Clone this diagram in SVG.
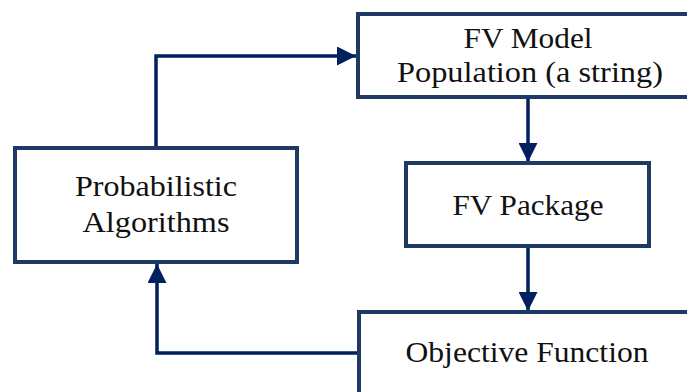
<svg xmlns="http://www.w3.org/2000/svg" width="687" height="392" viewBox="0 0 687 392">
<style>
.box{fill:#fff;stroke:#203864;stroke-width:4}
.lbl{font-family:"Liberation Serif","Times New Roman",serif;font-size:30px;fill:#111;text-anchor:middle}
.con{fill:none;stroke:#00205f;stroke-width:3.5}
</style>
<defs>
<marker id="ah" viewBox="0 0 10 10" refX="10" refY="5" markerWidth="19" markerHeight="19" markerUnits="userSpaceOnUse" orient="auto">
<path d="M0,0 L10,5 L0,10 Z" fill="#00205f"/>
</marker>
</defs>
<rect width="687" height="392" fill="#fff"/>
<g id="connectors">
<path class="con" d="M156,148 V56 H356" marker-end="url(#ah)"/>
<path class="con" d="M528,98 V162" marker-end="url(#ah)"/>
<path class="con" d="M528,246 V311" marker-end="url(#ah)"/>
<path class="con" d="M359,353 H157 V264" marker-end="url(#ah)"/>
</g>
<g id="fv-model">
<rect class="box" x="358" y="14" width="340" height="83"/>
<text class="lbl" x="528" y="48" textLength="129" lengthAdjust="spacingAndGlyphs">FV Model</text>
<text class="lbl" x="530" y="82" textLength="266" lengthAdjust="spacingAndGlyphs">Population (a string)</text>
</g>
<g id="probabilistic">
<rect class="box" x="15" y="148" width="282" height="114"/>
<text class="lbl" x="156" y="196" textLength="162" lengthAdjust="spacingAndGlyphs">Probabilistic</text>
<text class="lbl" x="156" y="232" textLength="147" lengthAdjust="spacingAndGlyphs">Algorithms</text>
</g>
<g id="fv-package">
<rect class="box" x="406" y="163" width="243" height="83"/>
<text class="lbl" x="528" y="215" textLength="151" lengthAdjust="spacingAndGlyphs">FV Package</text>
</g>
<g id="objective">
<rect class="box" x="359" y="312" width="340" height="100"/>
<text class="lbl" x="527" y="362" textLength="243" lengthAdjust="spacingAndGlyphs">Objective Function</text>
</g>
</svg>
